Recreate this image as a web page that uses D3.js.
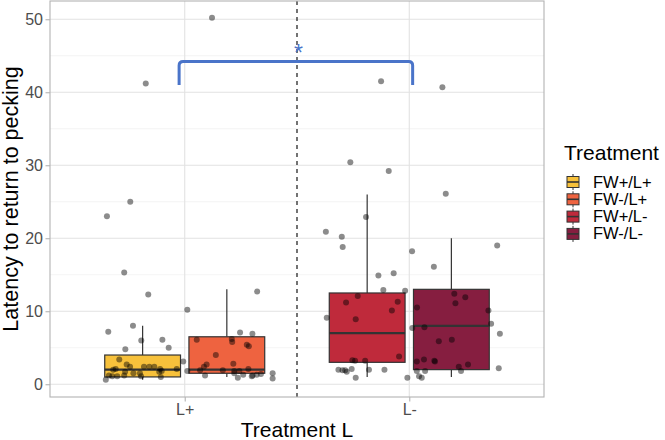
<!DOCTYPE html>
<html><head><meta charset="utf-8">
<script src="https://cdn.jsdelivr.net/npm/d3@7"></script>
<style>
  body{margin:0;background:#fff}
  svg{font-family:"Liberation Sans",Arial,sans-serif;display:block}
</style></head>
<body><div id="chart"></div>
<script>
// categories on the x axis and the treatment groups inside each
const lightCats = ['L+', 'L-'];
const treatments = ['FW+/L+', 'FW-/L+', 'FW+/L-', 'FW-/L-'];
const treatLight = ['L+', 'L+', 'L-', 'L-'];
const treatSide = [-1, 1, -1, 1];              // dodge side within its light category
const treatColors = ['#F7C13B', '#EE6340', '#BF2A3B', '#861E40'];
const yTicks = [0, 10, 20, 30, 40, 50];

// box stats: [lower whisker, q1, median, q3, upper whisker]
const boxStats = [
  [0.6, 1.0, 2.0, 4.0, 8.0],
  [1.0, 1.5, 2.0, 6.5, 13.0],
  [1.0, 3.0, 7.0, 12.5, 26.0],
  [1.0, 2.0, 8.0, 13.0, 20.0],
];

// jittered observations: [jitter (x units from group centre), latency]
const ptsFWpLp = [[0.014,41.2],[-0.055,25.0],[-0.159,23.0],[-0.082,15.3],[0.025,12.3],[-0.043,8.0],[-0.153,7.2],
  [-0.006,6.0],[0.088,6.1],[0.116,5.0],[-0.077,4.8],[-0.104,3.4],[-0.071,2.7],[-0.056,2.4],[-0.120,2.1],[0.006,2.4],
  [0.030,2.4],[0.052,2.4],[0.078,2.1],[0.085,1.8],[0.152,2.1],[0.181,3.1],[-0.078,1.7],[-0.041,1.5],[-0.012,1.5],
  [-0.150,1.2],[-0.135,1.1],[-0.113,1.1],[-0.082,1.2],[-0.164,0.6],[-0.007,1.1],[0.081,1.0],[-0.131,2.0],[0.074,1.7]];
const ptsFWmLp = [[-0.066,50.2],[0.135,12.7],[-0.176,10.2],[0.059,7.1],[0.114,6.9],[-0.134,6.1],[0.022,6.2],[0.024,5.8],
  [0.089,5.4],[0.098,5.2],[-0.049,4.0],[-0.090,2.7],[0.029,2.8],[-0.102,2.4],[0.096,2.1],[-0.119,1.9],[-0.176,1.8],
  [-0.018,1.9],[0.033,1.8],[0.056,1.8],[-0.097,1.2],[0.033,1.5],[0.073,1.3],[0.115,1.2],[0.133,1.3],[0.152,1.4],
  [0.049,0.9],[0.204,1.5],[0.204,0.8],[0.111,1.1]];
const ptsFWpLm = [[0.062,41.5],[-0.075,30.4],[0.096,29.2],[-0.005,22.9],[-0.184,20.9],[-0.113,20.2],[-0.109,18.8],
  [0.050,14.9],[0.118,15.2],[0.072,12.9],[0.169,12.8],[-0.042,12.1],[-0.094,11.2],[0.136,11.3],[0.110,10.1],
  [-0.180,9.1],[-0.051,8.9],[0.142,3.8],[-0.066,3.3],[-0.054,3.2],[-0.009,3.2],[-0.128,2.0],[-0.110,1.9],
  [-0.091,1.7],[-0.098,1.9],[-0.069,2.1],[0.008,2.0],[0.077,2.0],[-0.051,0.9],[0.179,0.9]];
const ptsFWmLm = [[-0.040,40.7],[-0.025,26.1],[0.204,19.0],[-0.175,18.2],[-0.078,16.1],[0.013,12.4],[0.062,11.9],
  [0.018,11.1],[-0.153,10.5],[0.165,10.1],[0.177,8.3],[-0.174,7.7],[-0.120,7.8],[0.216,6.9],[0.002,6.1],[-0.056,5.9],
  [-0.122,3.4],[-0.154,3.1],[-0.076,3.2],[-0.073,3.1],[0.074,2.7],[0.033,2.4],[0.211,2.2],[-0.154,1.8],[-0.117,1.8],
  [0.043,1.8],[-0.144,1.1],[-0.132,0.9]];
const groupPts = [ptsFWpLp, ptsFWmLp, ptsFWpLm, ptsFWmLm];

// significance bracket between the two light categories
const bracketTop = 44.2, bracketFoot = 41.0, bracketSpan = [-0.025, 0.015], sigLabel = '*', sigY = 46.0;

const W = 665, H = 440;
const M = { l: 50, r: 544, t: 1, b: 397 };
const dodge = 0.1875, boxW = 0.3375;

const svg = d3.select('#chart').append('svg').attr('width', W).attr('height', H);

const x = d3.scalePoint().domain(lightCats).range([M.l, M.r]).padding(0.6);
const unit = x.step();                          // px per x unit
const y = d3.scaleLinear().domain([-1.75, 52.5]).range([M.b, M.t]);
const cx = i => x(treatLight[i]) + treatSide[i] * dodge * unit;

// gridlines (minor then major)
const g = svg.append('g');
g.selectAll('line.mn').data(yTicks.slice(0, -1).map(v => v + 5)).join('line')
  .attr('x1', M.l).attr('x2', M.r).attr('y1', d => y(d)).attr('y2', d => y(d))
  .attr('stroke', '#ececec').attr('stroke-width', 0.6);
g.selectAll('line.mj').data(yTicks).join('line')
  .attr('x1', M.l).attr('x2', M.r).attr('y1', d => y(d)).attr('y2', d => y(d))
  .attr('stroke', '#e2e2e2').attr('stroke-width', 1.1);
g.selectAll('line.vx').data(lightCats).join('line')
  .attr('x1', d => x(d)).attr('x2', d => x(d)).attr('y1', M.t).attr('y2', M.b)
  .attr('stroke', '#e2e2e2').attr('stroke-width', 1.1);

// boxes
const bx = svg.append('g');
boxStats.forEach((s, i) => {
  const c = cx(i), hw = boxW * unit / 2;
  bx.append('line').attr('x1', c).attr('x2', c).attr('y1', y(s[3])).attr('y2', y(s[4]))
    .attr('stroke', '#333').attr('stroke-width', 1.2);
  bx.append('line').attr('x1', c).attr('x2', c).attr('y1', y(s[0])).attr('y2', y(s[1]))
    .attr('stroke', '#333').attr('stroke-width', 1.2);
  bx.append('rect').attr('x', c - hw).attr('width', 2 * hw).attr('y', y(s[3])).attr('height', y(s[1]) - y(s[3]))
    .attr('fill', treatColors[i]).attr('stroke', '#333').attr('stroke-width', 1.2);
  bx.append('line').attr('x1', c - hw).attr('x2', c + hw).attr('y1', y(s[2])).attr('y2', y(s[2]))
    .attr('stroke', '#333').attr('stroke-width', 2.4);
});

// jittered points
const pg = svg.append('g');
groupPts.forEach((pts, i) => {
  pg.append('g').selectAll('circle').data(pts).join('circle')
    .attr('cx', d => cx(i) + d[0] * unit).attr('cy', d => y(d[1])).attr('r', 3)
    .attr('fill', '#000').attr('fill-opacity', 0.45);
});

// dashed divider between light categories
const mid = (x(lightCats[0]) + x(lightCats[1])) / 2;
svg.append('line').attr('x1', mid).attr('x2', mid).attr('y1', M.t).attr('y2', M.b)
  .attr('stroke', '#000').attr('stroke-width', 1.1).attr('stroke-dasharray', '4,4');

// significance bracket
const bl = x(lightCats[0]) + bracketSpan[0] * unit, br = x(lightCats[1]) + bracketSpan[1] * unit, r = 4;
svg.append('path')
  .attr('d', `M${bl},${y(bracketFoot)} V${y(bracketTop) + r} Q${bl},${y(bracketTop)} ${bl + r},${y(bracketTop)}
    H${br - r} Q${br},${y(bracketTop)} ${br},${y(bracketTop) + r} V${y(bracketFoot)}`)
  .attr('fill', 'none').attr('stroke', '#4A74C9').attr('stroke-width', 3);
svg.append('text').attr('x', mid + 1.5).attr('y', y(sigY) + 13).attr('text-anchor', 'middle')
  .attr('font-size', 23).attr('fill', '#4A74C9').text(sigLabel);

// panel border
svg.append('rect').attr('x', M.l).attr('y', M.t).attr('width', M.r - M.l).attr('height', M.b - M.t)
  .attr('fill', 'none').attr('stroke', '#b3b3b3').attr('stroke-width', 1.1);

// axes
const ya = svg.append('g').attr('transform', `translate(${M.l},0)`)
  .call(d3.axisLeft(y).tickValues(yTicks).tickSize(4.5).tickPadding(2.5));
const xa = svg.append('g').attr('transform', `translate(0,${M.b})`)
  .call(d3.axisBottom(x).tickSize(4.5).tickPadding(2.5));
[ya, xa].forEach(a => {
  a.select('.domain').remove();
  a.selectAll('line').attr('stroke', '#b3b3b3').attr('stroke-width', 1.1);
  a.selectAll('text').attr('fill', '#4d4d4d').attr('font-size', 16).attr('font-family', null);
});

svg.append('text').attr('x', (M.l + M.r) / 2).attr('y', 437).attr('text-anchor', 'middle')
  .attr('font-size', 21).attr('fill', '#000').text('Treatment L');
svg.append('text').attr('transform', `translate(17.5,${(M.t + M.b) / 2}) rotate(-90)`).attr('text-anchor', 'middle')
  .attr('font-size', 21.5).attr('fill', '#000').text('Latency to return to pecking');

// legend
const lg = svg.append('g').attr('transform', 'translate(557,0)');
lg.append('text').attr('x', 7).attr('y', 160).attr('font-size', 21).text('Treatment');
treatments.forEach((t, i) => {
  const yy = 182 + i * 17.3;
  lg.append('line').attr('x1', 16).attr('x2', 16).attr('y1', yy - 8).attr('y2', yy + 8)
    .attr('stroke', '#333').attr('stroke-width', 1);
  lg.append('rect').attr('x', 10).attr('y', yy - 5.5).attr('width', 12).attr('height', 11)
    .attr('fill', treatColors[i]).attr('stroke', '#333').attr('stroke-width', 1);
  lg.append('line').attr('x1', 10).attr('x2', 22).attr('y1', yy).attr('y2', yy)
    .attr('stroke', '#333').attr('stroke-width', 1.6);
  lg.append('text').attr('x', 36).attr('y', yy + 5.5).attr('font-size', 16.5).text(t);
});
</script></body></html>
